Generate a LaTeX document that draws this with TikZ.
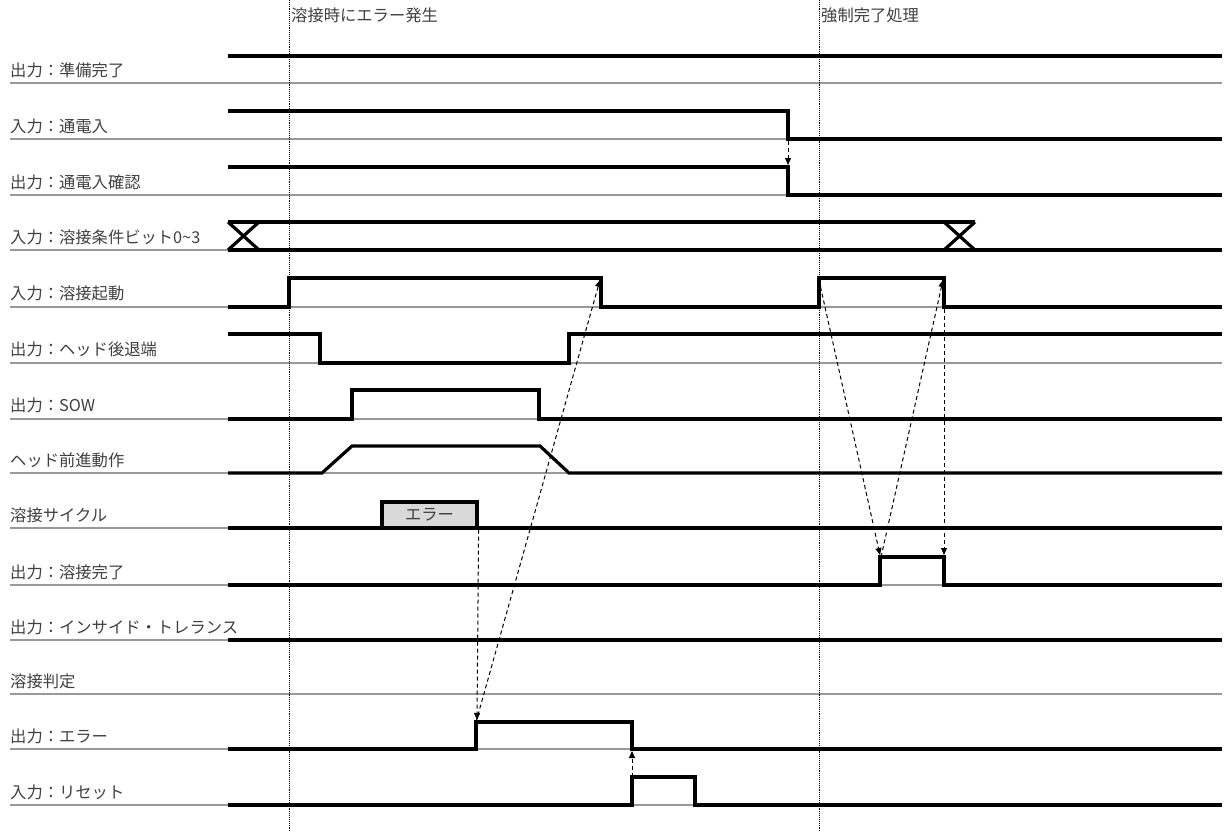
\documentclass[tikz,border=0pt]{standalone}
\usepackage{fontspec}
\setmainfont{Noto Sans CJK JP}
\usetikzlibrary{arrows.meta}
\begin{document}
\begin{tikzpicture}[x=1pt,y=-1pt,
  lbl/.style={anchor=west, font=\fontsize{16.3}{19}\selectfont, text=black!75, inner sep=0pt},
  base/.style={line width=1.8pt, draw=black!40},
  sig/.style={line width=3.2pt, line join=miter},
  vline/.style={line width=0.9pt, densely dotted},
  errbox/.style={draw, line width=3.2pt, fill=black!15, minimum width=95pt, minimum height=26pt, inner sep=0pt, font=\fontsize{16.3}{19}\selectfont, text=black!75},
  arr/.style={line width=1pt, dash pattern=on 4pt off 3pt, -{Triangle[length=7pt,width=6pt]}}]
\useasboundingbox (0,0) rectangle (1225,832);

% labels
\node[lbl] (l1)  at (10,70)  {出力：準備完了};
\node[lbl] (l2)  at (10,126) {入力：通電入};
\node[lbl] (l3)  at (10,182) {出力：通電入確認};
\node[lbl] (l4)  at (10,237) {入力：溶接条件ビット0\char`\~3};
\node[lbl] (l5)  at (10,293) {入力：溶接起動};
\node[lbl] (l6)  at (10,349) {出力：ヘッド後退端};
\node[lbl] (l7)  at (10,405) {出力：SOW};
\node[lbl] (l8)  at (10,460) {ヘッド前進動作};
\node[lbl] (l9)  at (10,515) {溶接サイクル};
\node[lbl] (l10) at (10,572) {出力：溶接完了};
\node[lbl] (l11) at (10,627) {出力：インサイド・トレランス};
\node[lbl] (l12) at (10,681) {溶接判定};
\node[lbl] (l13) at (10,736) {出力：エラー};
\node[lbl] (l14) at (10,792) {入力：リセット};

% baselines
\foreach \yy in {83,139,195,250,307,363,419,473,528,585,640,694,749,805}
  \draw[base] (10,\yy) -- (1222,\yy);

% vertical markers
\draw[vline] (289,0) -- (289,832);
\draw[vline] (819,0) -- (819,832);
\node[lbl] (t1) at (291,15) {溶接時にエラー発生};
\node[lbl] (t2) at (821,15) {強制完了処理};

% signals
\draw[sig] (228,56) -- (1222,56);
\draw[sig] (228,111) -- (788,111) -- (788,139) -- (1222,139);
\draw[sig] (228,167) -- (788,167) -- (788,195) -- (1222,195);
\draw[sig] (228,222) -- (975,222);
\draw[sig] (228,250) -- (1222,250);
\draw[sig] (228,222) -- (259,250) (228,250) -- (259,222);
\draw[sig] (944,222) -- (975,250) (944,250) -- (975,222);
\draw[sig] (228,307) -- (289,307) -- (289,278) -- (601,278) -- (601,307) -- (819,307) -- (819,278) -- (944,278) -- (944,307) -- (1222,307);
\draw[sig] (228,334) -- (320,334) -- (320,363) -- (569,363) -- (569,334) -- (1222,334);
\draw[sig] (228,419) -- (352,419) -- (352,390) -- (539,390) -- (539,419) -- (1222,419);
\draw[sig] (228,473) -- (322,473) -- (352,446) -- (540,446) -- (569,473) -- (1222,473);
\draw[sig] (228,528) -- (1222,528);
\node[errbox] (err) at (429.5,515) {エラー};
\draw[sig] (228,585) -- (880,585) -- (880,557) -- (944,557) -- (944,585) -- (1222,585);
\draw[sig] (228,640) -- (1222,640);
\draw[sig] (228,749) -- (476,749) -- (476,722) -- (632,722) -- (632,749) -- (1222,749);
\draw[sig] (228,805) -- (632,805) -- (632,777) -- (695,777) -- (695,805) -- (1222,805);

% edge coordinates
\coordinate (a1s) at (788,141);
\coordinate (a1e) at (788,165);
\coordinate (erise) at (477,720);
\coordinate (erisel) at (476,722);
\coordinate (stfall) at (600,280);
\coordinate (rsrise) at (632,777);
\coordinate (efall) at (632,751);
\coordinate (st2rise) at (819,280);
\coordinate (wc1) at (880,555);
\coordinate (wc0) at (881,557);
\coordinate (st2fall) at (943,280);
\coordinate (st2low) at (944,309);
\coordinate (wcfall) at (944,555);

% dashed arrows
\draw[arr] (a1s) -- (a1e);
\draw[arr] (err.south east) -- (erise);
\draw[arr] (erisel) -- (stfall);
\draw[arr] (rsrise) -- (efall);
\draw[arr] (st2rise) -- (wc1);
\draw[arr] (wc0) -- (st2fall);
\draw[arr] (st2low) -- (wcfall);
\end{tikzpicture}
\end{document}
